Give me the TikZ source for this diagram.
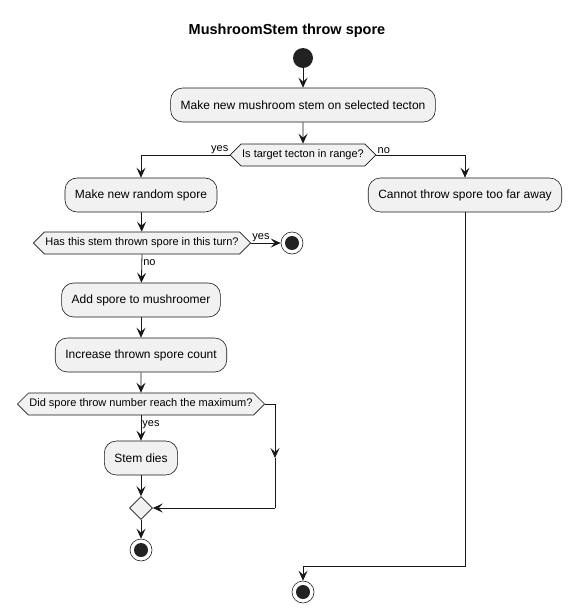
\documentclass[tikz,border=0pt]{standalone}
\usepackage{fontspec}
\setmainfont{Liberation Sans}
\usetikzlibrary{positioning, arrows.meta, shapes.geometric, shapes.symbols}

\definecolor{umlline}{HTML}{181818}
\definecolor{umlfill}{HTML}{F1F1F1}
\definecolor{umldot}{HTML}{222222}

\begin{document}
\begin{tikzpicture}[
    x=1pt, y=-1pt,
    action/.style={
        rectangle, draw=umlline, fill=umlfill, rounded corners=12pt,
        minimum height=34pt, inner xsep=10pt, line width=0.6pt,
        font=\fontsize{12}{14}\selectfont},
    choice/.style={
        signal, signal to=west and east, signal pointer angle=90,
        draw=umlline, fill=umlfill, line width=0.6pt,
        minimum height=22pt, inner xsep=1pt, inner ysep=5pt,
        font=\fontsize{11}{13}\selectfont},
    merge/.style={
        diamond, draw=umlline, fill=umlfill, line width=0.6pt,
        minimum size=23pt, inner sep=0pt},
    startdot/.style={
        circle, fill=umldot, minimum size=20pt, inner sep=0pt},
    stopdot/.style={
        circle, draw=umldot, fill=white, line width=0.6pt,
        minimum size=22pt, inner sep=0pt,
        path picture={\fill[umldot] (path picture bounding box.center) circle (7pt);}},
    lbl/.style={inner sep=1pt, font=\fontsize{11}{13}\selectfont},
    arr/.style={-{Stealth[length=10pt, width=9pt, inset=4pt]}, draw=umlline, line width=0.8pt},
    line/.style={draw=umlline, line width=0.8pt}
]
\useasboundingbox (0,0) rectangle (574,613);

%% ── Title ───────────────────────────────────────────────────────
\node[font=\bfseries\fontsize{14.5}{17}\selectfont] (title) at (287, 31) {MushroomStem throw spore};

%% ── Start and first action ───────────────────────────────────────
\node[startdot] (start) at (303, 58) {};
\node[action] (newstem) at (303, 105) {Make new mushroom stem on selected tecton};

%% ── Range check ──────────────────────────────────────────────────
\node[choice] (inrange) at (303, 155) {Is target tecton in range?};

%% ── Left branch (in range) ───────────────────────────────────────
\node[action] (newspore) at (141, 195) {Make new random spore};
\node[choice] (thrown)   at (142, 243) {Has this stem thrown spore in this turn?};
\node[stopdot] (stopturn) at (292, 243) {};
\node[action] (addspore) at (141, 300) {Add spore to mushroomer};
\node[action] (count)    at (141, 355) {Increase thrown spore count};
\node[choice] (maxed)    at (141, 404) {Did spore throw number reach the maximum?};
\node[action] (dies)     at (141, 458) {Stem dies};
\node[merge] (join)      at (141, 508) {};
\node[stopdot] (stopleft) at (141, 550) {};

%% ── Right branch (out of range) ──────────────────────────────────
\node[action] (toofar) at (465, 195) {Cannot throw spore too far away};
\node[stopdot] (stopend) at (303, 592) {};

%% ── Bends ────────────────────────────────────────────────────────
\coordinate (side1) at (275, 404);
\coordinate (side2) at (275, 458);
\coordinate (side3) at (275, 508);
\coordinate (low)   at (303, 566);

%% ── Arrows ───────────────────────────────────────────────────────
\draw[arr] (start) -- (newstem);
\draw[arr] (newstem) -- (inrange);

\draw[arr] (inrange.west) -| node[lbl, pos=0, anchor=south east] (yes1) {yes} (newspore);
\draw[arr] (inrange.east) -| node[lbl, pos=0, anchor=south west] (no1) {no} (toofar);

\draw[arr] (newspore) -- (thrown);
\draw[arr] (thrown.east) -- node[lbl, pos=0, anchor=south west] (yes2) {yes} (stopturn);
\draw[arr] (thrown.south) -- node[lbl, pos=0.15, anchor=north west] (no2) {no} (addspore);

\draw[arr] (addspore) -- (count);
\draw[arr] (count) -- (maxed);
\draw[arr] (maxed.south) -- node[lbl, pos=0.15, anchor=north west] (yes3) {yes} (dies);

\draw[arr] (maxed.east) -- (side1) -- (side2);
\draw[line] (side2) -- (side3);
\draw[arr] (side3) -- (join.east);

\draw[arr] (dies) -- (join);
\draw[arr] (join) -- (stopleft);

\draw[arr] (toofar.south) |- (low) -- (stopend);

\end{tikzpicture}
\end{document}
